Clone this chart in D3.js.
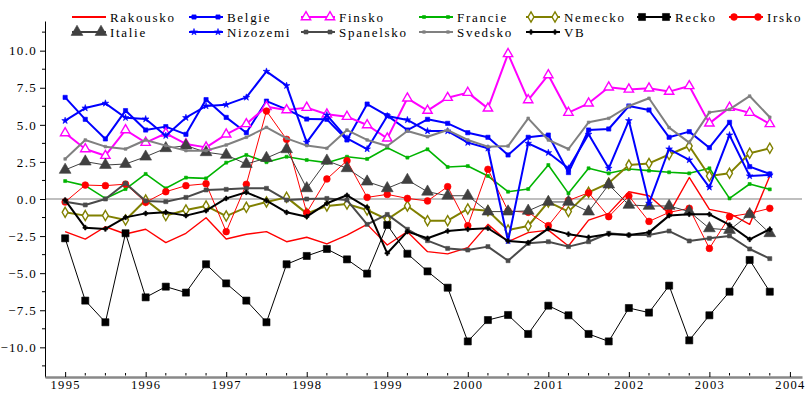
<!DOCTYPE html>
<html>
<head>
<meta charset="utf-8">
<script src="https://cdn.jsdelivr.net/npm/d3@7/dist/d3.min.js"></script>
<style>
  html, body { margin: 0; padding: 0; background: #fff; }
  svg { display: block; }
  text { font-family: "Liberation Serif", "Times New Roman", serif; fill: #000; }
</style>
</head>
<body>
<svg id="chart" width="806" height="393"></svg>
<script>
// Quarterly observations, 1995 Q1 – 2003 Q4
const startYear = 1995;
const quarters = d3.range(36).map(i => startYear + i / 4);

const yearTicks = [1995, 1996, 1997, 1998, 1999, 2000, 2001, 2002, 2003, 2004];
const valueTicks = [10, 7.5, 5, 2.5, 0, -2.5, -5, -7.5, -10];

const rakousko = [-2.2, -2.7, -1.87, -2.36, -2.04, -2.94, -2.31, -1.26, -2.7, -2.38, -2.2, -2.88,
  -2.58, -3.03, -2.43, -1.71, -3.1, -2.2, -3.55, -3.7, -3.28, -1.71, -2.88, -2.27,
  -2.1, -3.17, -1.42, -0.97, 0.49, 0.22, -0.97, 1.45, -0.7, -0.97, -1.71, 1.55];
const belgie = [6.85, 5.37, 4.05, 5.96, 4.65, 4.88, 4.36, 6.7, 5.5, 4.47, 6.6, 6.04,
  5.39, 5.37, 3.98, 6.4, 5.62, 4.65, 5.37, 5.1, 4.47, 4.16, 2.97, 4.16,
  4.31, 1.78, 4.65, 4.72, 6.27, 6.0, 4.16, 4.54, 3.46, 5.17, 2.18, 1.69];
const finsko = [4.45, 3.37, 2.92, 4.65, 3.8, 4.43, 3.71, 3.48, 4.36, 5.06, 6.22, 6.0,
  6.16, 5.71, 5.55, 4.99, 4.09, 6.79, 5.96, 6.83, 7.17, 6.11, 9.78, 6.67,
  8.36, 5.82, 6.45, 7.53, 7.39, 7.46, 7.24, 7.62, 5.1, 6.16, 5.82, 5.06];
const francie = [1.21, 0.9, 0.04, 0.67, 1.69, 0.72, 1.44, 1.39, 2.45, 2.97, 2.48, 2.85,
  2.63, 2.45, 2.85, 2.7, 3.46, 2.79, 3.35, 2.16, 2.22, 1.55, 0.49, 0.67,
  2.29, 0.38, 2.07, 1.73, 2.02, 1.91, 1.8, 1.73, 2.07, 0.04, 1.01, 0.65];
const nemecko = [-0.9, -1.12, -1.12, -1.42, -0.07, -1.12, -0.74, -0.47, -1.15, -0.56, -0.2, 0.11,
  -0.97, -0.47, -0.34, -0.74, -1.37, -0.47, -1.46, -1.46, -0.67, -0.79, -2.09, -1.82,
  -0.2, -0.85, 0.45, 1.07, 2.29, 2.4, 3.0, 3.57, 1.55, 1.73, 3.08, 3.42];
const recko = [-2.65, -6.85, -8.31, -2.31, -6.63, -5.91, -6.31, -4.4, -5.69, -6.85, -8.31, -4.4,
  -3.84, -3.37, -4.07, -5.03, -1.75, -3.69, -4.88, -5.98, -9.6, -8.16, -7.82, -9.1,
  -7.19, -7.84, -9.1, -9.6, -7.35, -7.66, -5.84, -9.53, -7.84, -6.25, -4.11, -6.25];
const irsko = [-0.2, 0.94, 0.9, 1.0, -0.22, 0.49, 0.9, 1.03, -2.2, 0.99, 5.93, 4.02,
  -0.92, 1.35, 2.58, 0.11, 0.31, 0.04, -0.13, 0.83, -1.8, 2.0, -0.8, -0.9,
  -1.8, -0.1, 0.42, -1.19, 0.2, -1.51, -0.9, -0.63, -3.33, -1.19, -0.97, -0.63];
const italie = [1.96, 2.52, 2.29, 2.36, 2.85, 3.42, 3.6, 3.15, 2.97, 2.36, 2.76, 3.35,
  0.72, 2.58, 2.07, 1.17, 0.72, 1.28, 0.49, 0.22, 0.22, -0.85, -0.85, -0.8,
  -0.2, -0.2, -0.85, 0.97, -0.4, -0.47, -0.47, -0.85, -1.98, -2.09, -1.03, -2.31];
const nizozemi = [5.28, 6.13, 6.45, 5.48, 5.39, 4.27, 5.48, 6.27, 6.36, 6.85, 8.6, 7.64,
  3.82, 5.66, 4.09, 3.37, 5.6, 5.33, 4.58, 4.58, 3.8, 3.42, -2.83, 3.75,
  3.12, 2.07, 4.36, 2.07, 5.28, -0.29, 3.37, 2.63, 0.79, 4.31, 1.55, 1.62];
const spanelsko = [-0.18, -0.4, 0, 1.06, -0.13, -0.18, 0.11, 0.61, 0.65, 0.72, 0.72, -0.07,
  0, 0.04, -0.07, -1.71, -1.04, -2.04, -2.81, -3.33, -3.44, -3.21, -4.16, -2.99,
  -2.88, -3.21, -2.88, -2.31, -2.43, -2.43, -2.16, -2.83, -2.65, -2.49, -3.37, -4.02];
const svedsko = [2.7, 3.98, 3.53, 3.37, 3.98, 3.6, 3.26, 3.26, 3.64, 4.16, 4.83, 4.09,
  3.6, 3.42, 4.65, 3.98, 3.57, 4.58, 4.2, 4.65, 3.98, 3.53, 3.57, 5.44,
  3.98, 3.37, 5.17, 5.44, 6.27, 6.79, 4.81, 3.8, 5.84, 6.04, 6.94, 5.51];
const vb = [-0.07, -1.93, -2.02, -1.24, -0.97, -0.9, -1.12, -0.79, 0.04, 0.45, -0.11, -0.9,
  -1.19, -0.29, 0.25, -0.56, -3.66, -2.2, -2.65, -2.16, -2.04, -1.97, -2.83, -2.94,
  -2.0, -2.37, -2.58, -2.36, -2.43, -2.25, -1.12, -1.03, -1.03, -1.75, -2.72, -2.04];

// Series styling: colour, line width, marker shape
const series = [
  { name: "Rakousko",  values: rakousko,  color: "#ff0000", width: 1.4, marker: null },
  { name: "Belgie",    values: belgie,    color: "#0000ff", width: 2,   marker: { type: d3.symbolSquare, size: 18, fill: true } },
  { name: "Finsko",    values: finsko,    color: "#ff00ff", width: 2,   marker: { type: d3.symbolTriangle, size: 38, fill: false } },
  { name: "Francie",   values: francie,   color: "#00b400", width: 1.6, marker: { type: d3.symbolSquare, size: 9, fill: true } },
  { name: "Nemecko",   values: nemecko,   color: "#808000", width: 2,   marker: { type: d3.symbolDiamond, size: 30, fill: false } },
  { name: "Recko",     values: recko,     color: "#000000", width: 1,   marker: { type: d3.symbolSquare, size: 50, fill: true } },
  { name: "Irsko",     values: irsko,     color: "#ff0000", width: 1,   marker: { type: d3.symbolCircle, size: 36, fill: true } },
  { name: "Italie",    values: italie,    color: "#404040", width: 1,   marker: { type: d3.symbolTriangle, size: 60, fill: true } },
  { name: "Nizozemi",  values: nizozemi,  color: "#0000ff", width: 2,   marker: { type: d3.symbolStar, size: 14, fill: true } },
  { name: "Spanelsko", values: spanelsko, color: "#4a4a4a", width: 2,   marker: { type: d3.symbolSquare, size: 16, fill: true } },
  { name: "Svedsko",   values: svedsko,   color: "#808080", width: 2,   marker: { type: d3.symbolSquare, size: 7, fill: true } },
  { name: "VB",        values: vb,        color: "#000000", width: 2,   marker: { type: d3.symbolCross, size: 12, fill: true } }
];

const svg = d3.select("#chart");

const x = d3.scaleLinear().domain([1994.75, 2004.15]).range([45, 802]);
const y = d3.scaleLinear().domain([-12, 12]).range([377, 21]);

// zero reference line
svg.append("line")
  .attr("x1", x(1994.75)).attr("x2", x(2004.15))
  .attr("y1", y(0)).attr("y2", y(0))
  .attr("stroke", "#808080").attr("stroke-width", 1.2);

// y axis
const yAxis = d3.axisLeft(y)
  .tickValues(valueTicks)
  .tickFormat(d3.format(".1f"))
  .tickSize(5).tickSizeOuter(0);
const gy = svg.append("g").attr("transform", `translate(${x(1994.75)},0)`).call(yAxis);
gy.select(".domain").attr("stroke", "#000").attr("stroke-width", 1);
gy.selectAll("text")
  .attr("font-size", 13).attr("letter-spacing", "1.3px")
  .attr("font-family", "Liberation Serif, serif").attr("x", -8);
// minor ticks between labelled values
gy.selectAll(".minor").data(d3.range(-11.25, 12, 2.5)).join("line")
  .attr("class", "minor")
  .attr("x1", -3).attr("x2", 0)
  .attr("y1", d => y(d)).attr("y2", d => y(d))
  .attr("stroke", "#000");

// x axis (grey base line, ticks pointing up)
const xAxis = d3.axisBottom(x)
  .tickValues(yearTicks)
  .tickFormat(d3.format("d"))
  .tickSize(-5).tickSizeOuter(0);
const gx = svg.append("g").attr("transform", `translate(0,${y(-12)})`).call(xAxis);
gx.select(".domain").attr("stroke", "#888").attr("stroke-width", 2.5);
gx.selectAll(".tick line").attr("stroke", "#000");
gx.selectAll("text")
  .attr("font-size", 12.5).attr("letter-spacing", "1.3px")
  .attr("font-family", "Liberation Serif, serif").attr("y", 3);
gx.selectAll(".minor").data(d3.range(1995.25, 2004, 0.25).filter(d => Math.abs(d - Math.round(d)) > 0.01)).join("line")
  .attr("class", "minor")
  .attr("x1", d => x(d)).attr("x2", d => x(d))
  .attr("y1", -1.5).attr("y2", -4)
  .attr("stroke", "#000");

// series lines and markers
const line = d3.line().x((d, i) => x(quarters[i])).y(d => y(d));

function drawMarker(sel, s, size) {
  const m = s.marker;
  sel.attr("d", d3.symbol().type(m.type).size(size || m.size))
    .attr("fill", m.fill ? s.color : "#fff")
    .attr("stroke", s.color)
    .attr("stroke-width", m.fill ? 0.6 : 1.4);
}

series.forEach(s => {
  const g = svg.append("g");
  g.append("path")
    .attr("d", line(s.values))
    .attr("fill", "none")
    .attr("stroke", s.color)
    .attr("stroke-width", s.width)
    .attr("stroke-linejoin", "round");
  if (s.marker) {
    g.selectAll("path.m").data(s.values).join("path")
      .attr("class", "m")
      .attr("transform", (d, i) => `translate(${x(quarters[i])},${y(d)})`)
      .call(sel => drawMarker(sel, s));
  }
});

// legend: two rows, aligned columns
const legendCols = [72, 189, 301, 419, 526, 637, 729];
const legendRows = [17, 32];
const legend = svg.append("g");
series.forEach((s, k) => {
  const row = k < 7 ? 0 : 1;
  const col = k < 7 ? k : k - 7;
  const lx = legendCols[col], ly = legendRows[row];
  const g = legend.append("g").attr("transform", `translate(${lx},${ly})`);
  g.append("line").attr("x1", 0).attr("x2", 34).attr("y1", 0).attr("y2", 0)
    .attr("stroke", s.color).attr("stroke-width", Math.max(s.width, 2));
  if (s.marker) {
    [5, 29].forEach(px => {
      g.append("path").attr("transform", `translate(${px},0)`)
        .call(sel => drawMarker(sel, s));
    });
  }
  g.append("text").attr("x", 38).attr("y", 4.5)
    .attr("font-size", 13).attr("letter-spacing", "1.7px")
    .text(s.name);
});
</script>
</body>
</html>
